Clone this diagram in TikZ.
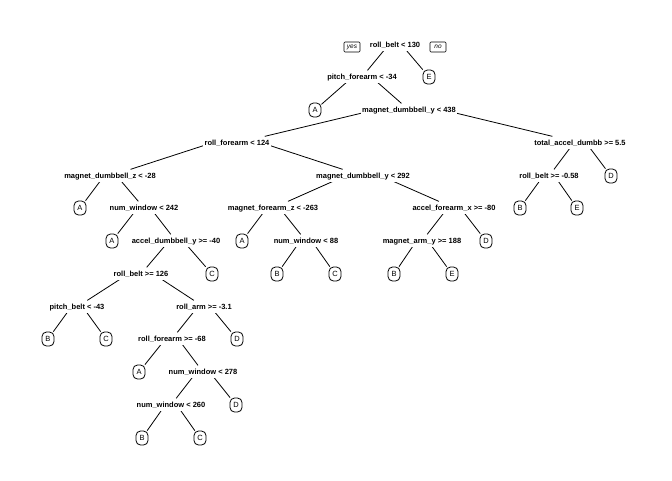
\documentclass[tikz,border=0pt]{standalone}
\usepackage{fontspec}
\setmainfont{Liberation Sans}
\usetikzlibrary{calc, backgrounds}
\tikzset{
  splitlbl/.style={fill=white, inner xsep=1.5pt, inner ysep=2.6pt,
    text height=6pt, text depth=1.7pt, font=\fontsize{7.5}{9}\selectfont\bfseries},
  leafbox/.style={draw=black, fill=white, rounded corners=4.5pt, line width=0.8pt,
    minimum width=12pt, minimum height=14pt, inner sep=0pt, font=\fontsize{7.5}{9}\selectfont},
  yesno/.style={draw=black, line width=0.6pt, rounded corners=1pt, minimum width=16pt,
    minimum height=10pt, inner sep=0pt, font=\fontsize{6.5}{7}\selectfont\itshape},
  branch/.style={line width=0.8pt, black},
}
\begin{document}
\begin{tikzpicture}[x=1pt, y=-1pt]
\useasboundingbox (0,0) rectangle (672,480);
% split labels
\node[splitlbl] (rb130)  at (395,45)  {roll\_belt < 130};
\node[splitlbl] (pf34)   at (362,77)  {pitch\_forearm < -34};
\node[splitlbl] (mdy438) at (409,110) {magnet\_dumbbell\_y < 438};
\node[splitlbl] (rf124)  at (237,143) {roll\_forearm < 124};
\node[splitlbl] (tad55)  at (580,143) {total\_accel\_dumbb >= 5.5};
\node[splitlbl] (mdz28)  at (110,176) {magnet\_dumbbell\_z < -28};
\node[splitlbl] (mdy292) at (363,176) {magnet\_dumbbell\_y < 292};
\node[splitlbl] (rb058)  at (549,176) {roll\_belt >= -0.58};
\node[splitlbl] (nw242)  at (144,208) {num\_window < 242};
\node[splitlbl] (mfz263) at (273,208) {magnet\_forearm\_z < -263};
\node[splitlbl] (afx80)  at (454,208) {accel\_forearm\_x >= -80};
\node[splitlbl] (ady40)  at (176,241) {accel\_dumbbell\_y >= -40};
\node[splitlbl] (nw88)   at (306,241) {num\_window < 88};
\node[splitlbl] (may188) at (422,241) {magnet\_arm\_y >= 188};
\node[splitlbl] (rb126)  at (141,274) {roll\_belt >= 126};
\node[splitlbl] (pb43)   at (77,307)  {pitch\_belt < -43};
\node[splitlbl] (ra31)   at (204,307) {roll\_arm >= -3.1};
\node[splitlbl] (rf68)   at (172,339) {roll\_forearm >= -68};
\node[splitlbl] (nw278)  at (203,372) {num\_window < 278};
\node[splitlbl] (nw260)  at (171,405) {num\_window < 260};
% yes / no tags
\node[yesno] (yes) at (352,47) {yes};
\node[yesno] (no)  at (438,47) {no};
% leaves
\foreach \n/\xx/\yy/\c in {rb130r/429/77/E, pf34l/315/110/A, tad55r/611/176/D,
  mdz28l/80/208/A, rb058l/520/208/B, rb058r/577/208/E, nw242l/112/241/A,
  mfz263l/242/241/A, afx80r/486/241/D, ady40r/212/274/C, nw88l/277/274/B,
  nw88r/335/274/C, may188l/394/274/B, may188r/452/274/E, pb43l/48/339/B,
  pb43r/106/339/C, ra31r/237/339/D, rf68l/139/372/A, nw278r/236/405/D,
  nw260l/142/438/B, nw260r/200/438/C}
{\node[leafbox] (\n) at (\xx,\yy) {\c};}
% branches, hidden under the labels
\begin{scope}[on background layer]
\fill[white] (0,0) rectangle (672,480);
\foreach \p/\l/\r in {rb130/pf34/rb130r, pf34/pf34l/mdy438, mdy438/rf124/tad55,
  rf124/mdz28/mdy292, tad55/rb058/tad55r, mdz28/mdz28l/nw242, nw242/nw242l/ady40,
  ady40/rb126/ady40r, rb126/pb43/ra31, pb43/pb43l/pb43r, ra31/rf68/ra31r,
  rf68/rf68l/nw278, nw278/nw260/nw278r, nw260/nw260l/nw260r, mdy292/mfz263/afx80,
  mfz263/mfz263l/nw88, nw88/nw88l/nw88r, afx80/may188/afx80r,
  may188/may188l/may188r, rb058/rb058l/rb058r}
{\draw[branch] ($(\p)!0.2!(\p -| \l)$) -- (\l);
 \draw[branch] ($(\p)!0.2!(\p -| \r)$) -- (\r);}
\end{scope}
\end{tikzpicture}
\end{document}
